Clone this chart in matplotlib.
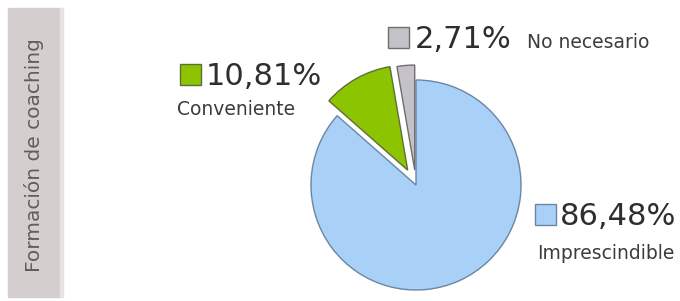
import matplotlib
matplotlib.use("Agg")
import matplotlib.pyplot as plt
from matplotlib.patches import Rectangle

# data
labels = ["Imprescindible", "Conveniente", "No necesario"]
values = [86.48, 10.81, 2.71]
value_text = ["86,48%", "10,81%", "2,71%"]
colors = ["#a9d1f7", "#8cc400", "#c4c2c8"]
edges = ["#6a86a2", "#5e6e3a", "#6e6e6e"]
explode = [0, 17, 15]  # pixels, axes use pixel units
side_title = "Formación de coaching"

W, H = 680, 301
fig = plt.figure(figsize=(W / 100, H / 100), dpi=100)
ax = fig.add_axes([0, 0, 1, 1])

# grey side band with title
ax.add_patch(Rectangle((8, 8), 52, 289, color="#d4cecf", zorder=0))
ax.add_patch(Rectangle((60, 8), 3, 289, color="#e6e2e2", zorder=0))
ax.text(34, 155, side_title, rotation=90, ha="center", va="center",
        fontsize=14.5, color="#625c5e")

# pie (y axis is inverted, so counterclock=True draws clockwise on screen)
wedges, _ = ax.pie(values, colors=colors, startangle=-90, counterclock=True,
                   explode=explode, center=(416, 185), radius=105,
                   wedgeprops=dict(linewidth=1), frame=True)
for w, ec in zip(wedges, edges):
    w.set_edgecolor(ec)
ax.set_xlim(0, W)
ax.set_ylim(H, 0)
ax.set_aspect("equal")
ax.axis("off")

# labels: (square x, square y, value x, value baseline, name x, name baseline)
pos = [
    (535, 204, 560, 225, 537, 259),
    (180, 64, 206, 85, 177, 115),
    (388, 27, 415, 48, 527, 48),
]
for i, (sx, sy, vx, vy, nx, ny) in enumerate(pos):
    ax.add_patch(Rectangle((sx, sy), 21, 21, facecolor=colors[i],
                           edgecolor=edges[i], linewidth=1))
    ax.text(vx, vy, value_text[i], fontsize=22, color="#2e2e2e",
            va="baseline", ha="left")
    ax.text(nx, ny, labels[i], fontsize=13.5, color="#3c3c3c",
            va="baseline", ha="left")

fig.savefig("out.png", dpi=100)
